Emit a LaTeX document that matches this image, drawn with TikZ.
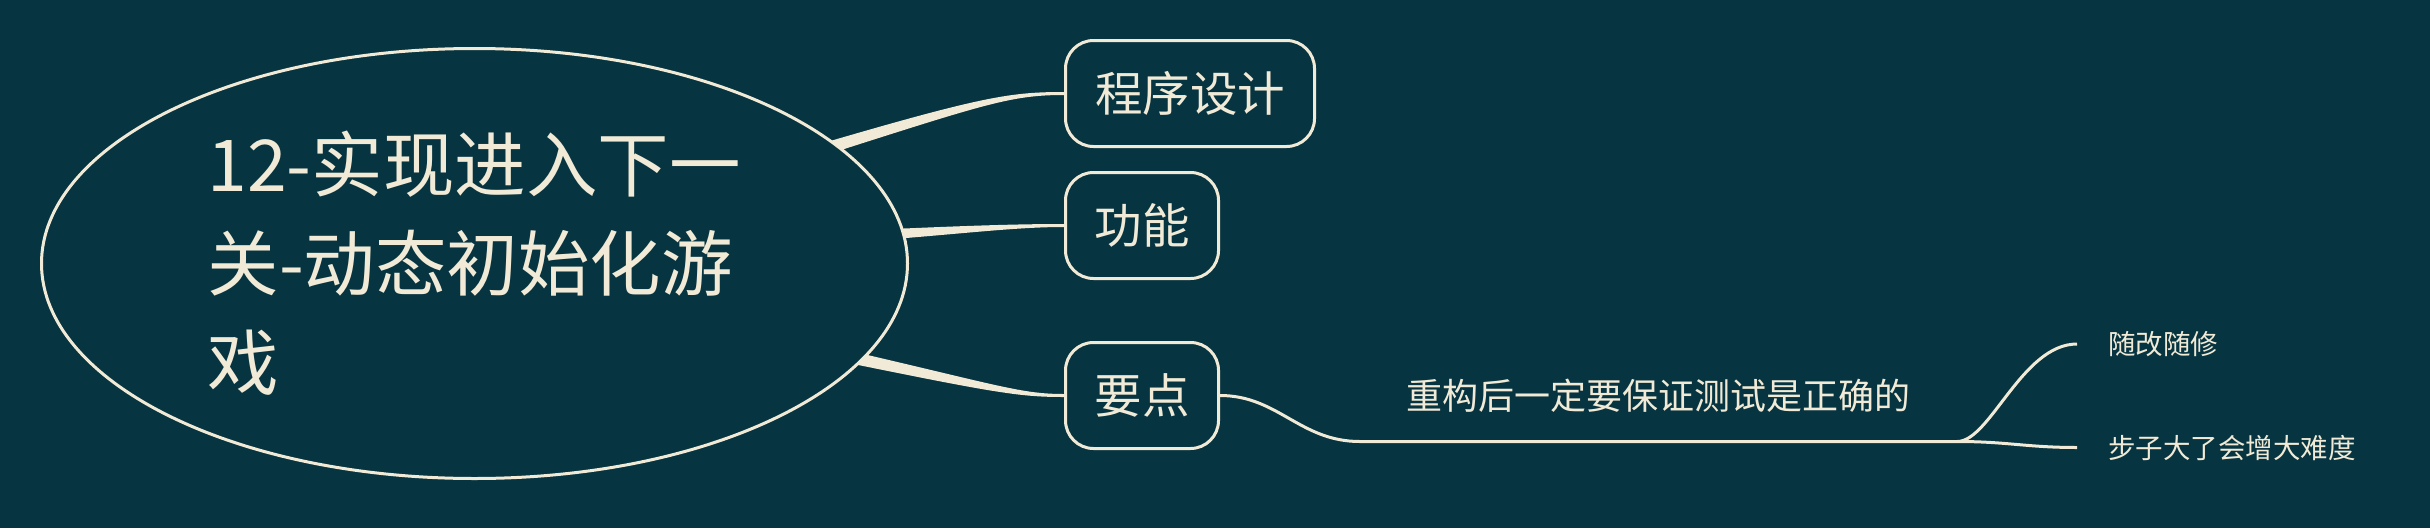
\documentclass[tikz,border=0pt]{standalone}
\usepackage{fontspec}
\setmainfont{Noto Sans CJK SC}
\usetikzlibrary{shapes.geometric,calc}
\definecolor{bgc}{RGB}{7,52,65}
\definecolor{fgc}{RGB}{240,234,214}
\pgfdeclarelayer{bglayer}
\pgfdeclarelayer{edgelayer}
\pgfsetlayers{bglayer,edgelayer,main}
\begin{document}
\begin{tikzpicture}[x=1pt,y=-1pt,
  rootnode/.style={ellipse, draw=fgc, fill=bgc, line width=3pt, minimum width=866pt, minimum height=430pt, inner sep=0pt, align=left, text width=534pt, text=fgc, font=\fontsize{71.5pt}{99pt}\selectfont},
  topic/.style={draw=fgc, fill=bgc, line width=3pt, rounded corners=28pt, minimum height=106pt, inner sep=0pt, text=fgc, font=\fontsize{47.5pt}{57pt}\selectfont},
  conn/.style={fill=fgc},
  subline/.style={draw=fgc, line width=3pt},
  subtopic/.style={anchor=south, minimum width=597pt, inner sep=0pt, text depth=32pt, text=fgc, font=\fontsize{36pt}{43pt}\selectfont},
  leaf/.style={anchor=west, inner xsep=31pt, inner ysep=0pt, text=fgc, font=\fontsize{27.5pt}{33pt}\selectfont},
]
\useasboundingbox (0,0) rectangle (2430,528);
\begin{pgfonlayer}{bglayer}
\fill[bgc] (0,0) rectangle (2430,528);
\end{pgfonlayer}

\node[rootnode] (root) at (474.5,263.5) {12-实现进入下一\\关-动态初始化游\\戏};
\node[topic, minimum width=249pt] (b1) at (1190,93.5) {程序设计};
\node[topic, minimum width=153pt] (b2) at (1142,225.5) {功能};
\node[topic, minimum width=153pt] (b3) at (1142,395.5) {要点};
\node[subtopic] (t1) at (1658.5,441.5) {重构后一定要保证测试是正确的};
\node[leaf] (c1) at (2077,344) {随改随修};
\node[leaf] (c2) at (2077,447.5) {步子大了会增大难度};

\begin{pgfonlayer}{edgelayer}
\coordinate (s1) at ($(root.18)+(-10,2.5)$);
\coordinate (s2) at ($(root.4)+(-10,0.5)$);
\coordinate (s3) at ($(root.-14)+(-12,-3)$);
\fill[conn] ($(s1)+(-1.8,-5.7)$) .. controls +(157.6,-46.1) and +(-52,0) .. ($(b1.west)+(0,-1.5)$)
  -- ($(b1.west)+(0,1.5)$) .. controls +(-52,0) and +(156.4,-49.9) .. ($(s1)+(1.8,5.7)$) -- cycle;
\fill[conn] ($(s2)+(-0.3,-5)$) .. controls +(80.1,-3.5) and +(-44,0) .. ($(b2.west)+(0,-1.5)$)
  -- ($(b2.west)+(0,1.5)$) .. controls +(-44,0) and +(79.9,-6.5) .. ($(s2)+(0.3,5)$) -- cycle;
\fill[conn] ($(s3)+(1.3,-5.9)$) .. controls +(148.6,34.5) and +(-42,0) .. ($(b3.west)+(0,-1.5)$)
  -- ($(b3.west)+(0,1.5)$) .. controls +(-42,0) and +(149.4,30.5) .. ($(s3)+(-1.3,5.9)$) -- cycle;
\draw[subline] (b3.east) .. controls +(58,0) and +(-60,0) .. (t1.south west) -- (t1.south east);
\draw[subline] (t1.south east) .. controls +(33,0) and +(-55,0) .. (c1.west);
\draw[subline] (t1.south east) .. controls +(50,0) and +(-50,0) .. (c2.west);
\end{pgfonlayer}
\end{tikzpicture}
\end{document}
